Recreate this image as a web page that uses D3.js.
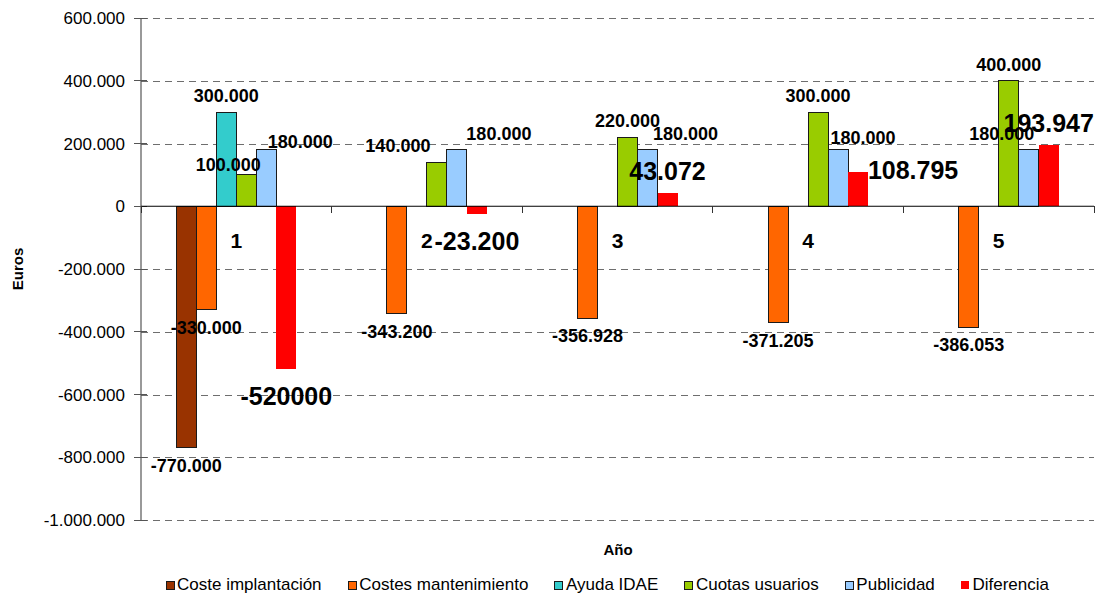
<!DOCTYPE html>
<html>
<head>
<meta charset="utf-8">
<script src="https://cdn.jsdelivr.net/npm/d3@7"></script>
<style>
  html, body { margin: 0; padding: 0; background: #fff; }
  svg { display: block; font-family: "Liberation Sans", Arial, sans-serif; }
</style>
</head>
<body>
<svg id="chart" width="1102" height="597"></svg>
<script>
// Years shown along the category axis
const categories = ["1", "2", "3", "4", "5"];

// Series (euros per year)
const seriesNames = ["Coste implantación", "Costes mantenimiento", "Ayuda IDAE", "Cuotas usuarios", "Publicidad", "Diferencia"];
const costeImplantacion   = [-770000, 0, 0, 0, 0];
const costesMantenimiento = [-330000, -343200, -356928, -371205, -386053];
const ayudaIDAE           = [300000, 0, 0, 0, 0];
const cuotasUsuarios      = [100000, 140000, 220000, 300000, 400000];
const publicidad          = [180000, 180000, 180000, 180000, 180000];
const diferencia          = [-520000, -23200, 43072, 108795, 193947];

// Label text as printed next to each bar
const diferenciaLabels = ["-520000", "-23.200", "43.072", "108.795", "193.947"];

// Y axis ticks
const yTicks = [600000, 400000, 200000, 0, -200000, -400000, -600000, -800000, -1000000];
const yTickLabels = ["600.000", "400.000", "200.000", "0", "-200.000", "-400.000", "-600.000", "-800.000", "-1.000.000"];

const seriesValues = [costeImplantacion, costesMantenimiento, ayudaIDAE, cuotasUsuarios, publicidad, diferencia];
const colors = ["#993300", "#FF6600", "#33CCCC", "#99CC00", "#99CCFF", "#FF0000"];

// Hand-placed label offsets [dx, dy] per series and year (label layout only)
const labelShift = {
  "Cuotas usuarios": [[-18, 6], [-39, 0], [0, 0], [0, 0], [0, 0]],
  "Publicidad": [[34, 8], [42, 0], [38, 0], [25, 4], [-27, 0]],
  "Diferencia": [[0, 0], [0, 0], [0, 0], [55, 20], [0, 0]]
};

const fmt = v => {
  const s = Math.abs(v).toString().replace(/\B(?=(\d{3})+(?!\d))/g, ".");
  return (v < 0 ? "-" : "") + s;
};

const svg = d3.select("#chart");
const plotLeft = 141, plotRight = 1094, plotTop = 18, plotBottom = 520;

const y = d3.scaleLinear().domain([-1000000, 600000]).range([plotBottom, plotTop]);
const x0 = d3.scaleBand().domain(categories).range([plotLeft, plotRight]).paddingInner(0).paddingOuter(0);
const x1 = d3.scaleBand().domain(seriesNames).range([0, x0.bandwidth()]).paddingInner(0).paddingOuter(1.765);

// Dashed horizontal gridlines
svg.append("g").selectAll("line").data(yTicks.filter(t => t !== 0)).join("line")
  .attr("x1", plotLeft).attr("x2", plotRight)
  .attr("y1", d => Math.round(y(d)) + 0.5).attr("y2", d => Math.round(y(d)) + 0.5)
  .attr("stroke", "#6e6e6e").attr("stroke-width", 1).attr("stroke-dasharray", "7,5");

// Bars
const rows = [];
seriesNames.forEach((name, si) => {
  categories.forEach((c, ci) => {
    rows.push({ name, si, c, ci, v: seriesValues[si][ci] });
  });
});

svg.append("g").selectAll("rect").data(rows.filter(d => d.v !== 0)).join("rect")
  .attr("x", d => x0(d.c) + x1(d.name))
  .attr("width", x1.bandwidth())
  .attr("y", d => y(Math.max(0, d.v)))
  .attr("height", d => Math.abs(y(d.v) - y(0)))
  .attr("fill", d => colors[d.si])
  .attr("stroke", d => d.name === "Diferencia" ? "none" : "#1a1a1a")
  .attr("stroke-width", 1)
  .attr("shape-rendering", "crispEdges");

// Y axis
const yAxis = svg.append("g");
yAxis.append("line").attr("x1", plotLeft).attr("x2", plotLeft).attr("y1", plotTop).attr("y2", plotBottom)
  .attr("stroke", "#555").attr("stroke-width", 1.2);
yAxis.selectAll("line.tick").data(yTicks).join("line").attr("class", "tick")
  .attr("x1", plotLeft - 7).attr("x2", plotLeft + 6)
  .attr("y1", d => y(d)).attr("y2", d => y(d))
  .attr("stroke", "#555").attr("shape-rendering", "crispEdges");
yAxis.selectAll("text").data(yTicks).join("text")
  .attr("x", 125).attr("y", d => y(d) + 6)
  .attr("text-anchor", "end").attr("font-size", 17).attr("fill", "#000")
  .text((d, i) => yTickLabels[i]);

// Category axis along zero
const xAxis = svg.append("g");
xAxis.append("line").attr("x1", plotLeft).attr("x2", plotRight).attr("y1", y(0)).attr("y2", y(0))
  .attr("stroke", "#000").attr("stroke-width", 1.2);
const bounds = categories.map(c => x0(c)).concat([plotRight]);
xAxis.selectAll("line.tick").data(bounds).join("line").attr("class", "tick")
  .attr("x1", d => d).attr("x2", d => d)
  .attr("y1", y(0)).attr("y2", y(0) + 7)
  .attr("stroke", "#333").attr("shape-rendering", "crispEdges");
xAxis.selectAll("text").data(categories).join("text")
  .attr("x", d => x0(d) + x0.bandwidth() / 2)
  .attr("y", y(0) + 42)
  .attr("text-anchor", "middle").attr("font-size", 21).attr("font-weight", "bold")
  .text(d => d);

// Value labels
svg.append("g").selectAll("text").data(rows.filter(d => d.v !== 0)).join("text")
  .attr("x", d => {
    const sh = labelShift[d.name] ? labelShift[d.name][d.ci][0] : 0;
    return x0(d.c) + x1(d.name) + x1.bandwidth() / 2 + sh;
  })
  .attr("y", d => {
    const big = d.name === "Diferencia";
    const sh = labelShift[d.name] ? labelShift[d.name][d.ci][1] : 0;
    const base = d.v >= 0 ? y(d.v) - (big ? 13 : 10) : y(d.v) + (big ? 36 : 24);
    return base + sh;
  })
  .attr("text-anchor", "middle")
  .attr("font-weight", "bold")
  .attr("font-size", d => d.name === "Diferencia" ? 25 : 18)
  .attr("fill", "#000")
  .text(d => d.name === "Diferencia" ? diferenciaLabels[d.ci] : fmt(d.v));

// Axis titles
svg.append("text").attr("transform", "translate(23,269) rotate(-90)")
  .attr("text-anchor", "middle").attr("font-size", 15).attr("font-weight", "bold").text("Euros");
svg.append("text").attr("x", 618).attr("y", 555)
  .attr("text-anchor", "middle").attr("font-size", 15).attr("font-weight", "bold").text("Año");

// Legend
const legend = svg.append("g");
const items = legend.selectAll("g").data(seriesNames).join("g");
items.append("rect").attr("width", 8).attr("height", 8).attr("y", 581)
  .attr("fill", (d, i) => colors[i])
  .attr("stroke", d => d === "Diferencia" ? "none" : "#1a1a1a")
  .attr("shape-rendering", "crispEdges");
items.append("text").attr("x", 11).attr("y", 590).attr("font-size", 17).text(d => d);
const widths = [];
items.select("text").each(function () { widths.push(this.getComputedTextLength()); });
const legStart = 166, legEnd = 1049;
const used = widths.reduce((a, w) => a + 11 + w, 0);
const gap = (legEnd - legStart - used) / (seriesNames.length - 1);
let cx = legStart;
items.each(function (d, i) {
  d3.select(this).attr("transform", `translate(${cx},0)`);
  cx += 11 + widths[i] + gap;
});
</script>
</body>
</html>
